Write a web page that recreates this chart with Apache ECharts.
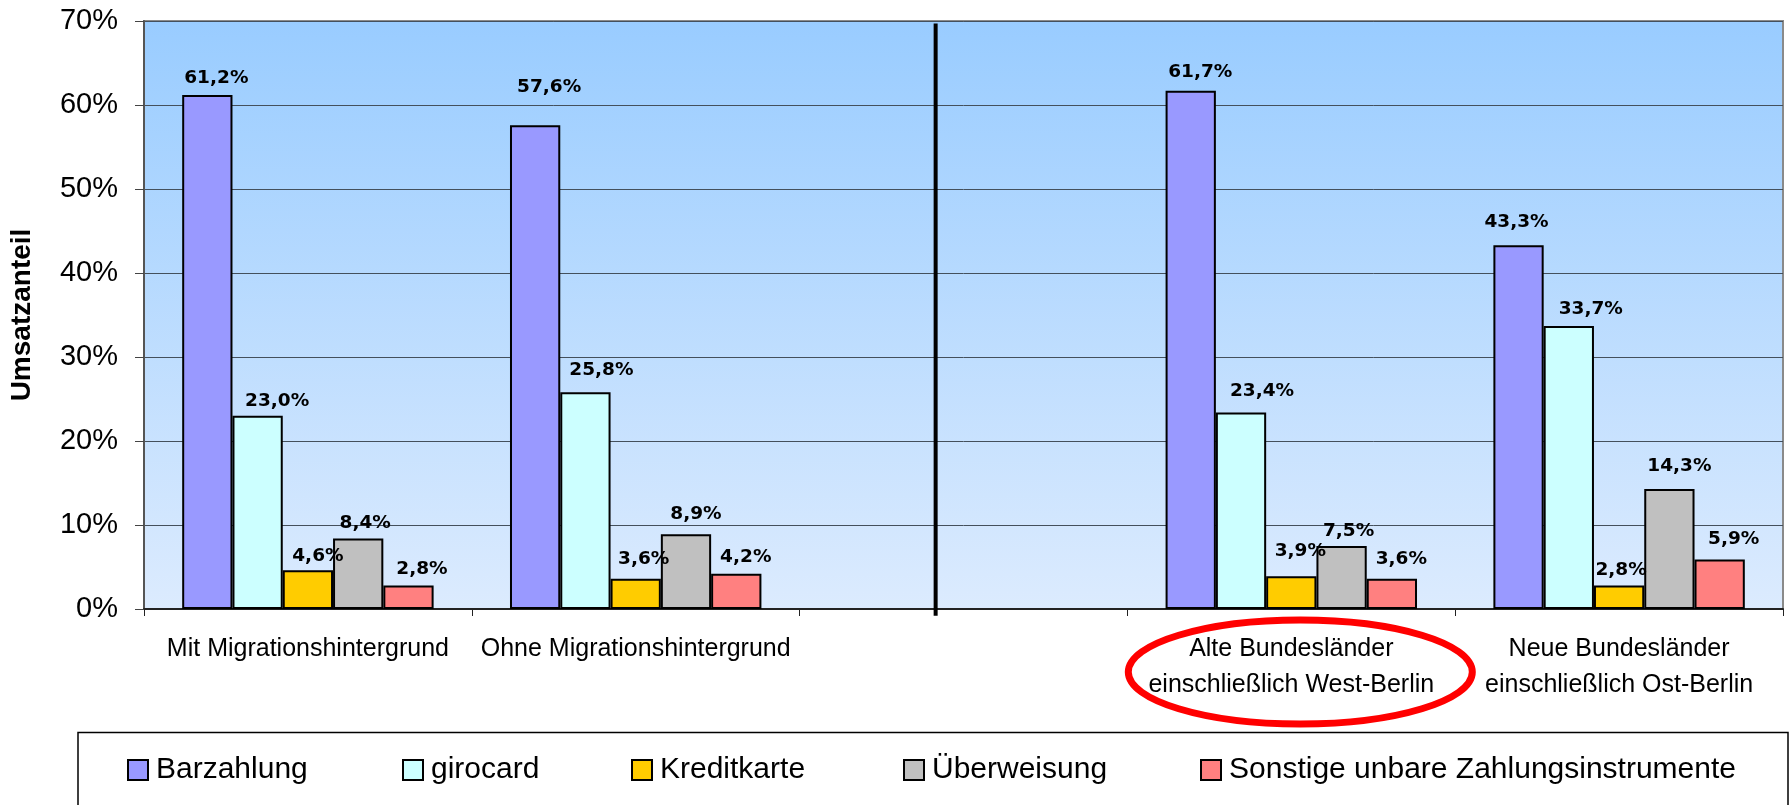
<!DOCTYPE html>
<html>
<head>
<meta charset="utf-8">
<script src="https://cdn.jsdelivr.net/npm/echarts@6/dist/echarts.min.js"></script>
<style>
  html, body { margin: 0; padding: 0; background: #fff; }
  #chart { width: 1791px; height: 805px; }
</style>
</head>
<body>
<div id="chart"></div>
<script>
// ---- data ----
const categories = [
  'Mit Migrationshintergrund',
  'Ohne Migrationshintergrund',
  '',
  'Alte Bundesländer\neinschließlich West-Berlin',
  'Neue Bundesländer\neinschließlich Ost-Berlin'
];
const seriesNames = ['Barzahlung', 'girocard', 'Kreditkarte', 'Überweisung', 'Sonstige unbare Zahlungsinstrumente'];
const barzahlung  = [61.2, 57.6, null, 61.7, 43.3];
const girocard    = [23.0, 25.8, null, 23.4, 33.7];
const kreditkarte = [4.6, 3.6, null, 3.9, 2.8];
const ueberweisung = [8.4, 8.9, null, 7.5, 14.3];
const sonstige    = [2.8, 4.2, null, 3.6, 5.9];
const yTicks = [0, 10, 20, 30, 40, 50, 60, 70];

// ---- styling (not data) ----
const colors = ['#9999FF', '#CCFFFF', '#FFCC00', '#C0C0C0', '#FF8080'];
// label nudges [dx, gap between baseline and bar top]
const labelNudge = [
  [[9, 11.6], [14, 32], null, [9.5, 12.6], [-2, 17.3]],
  [[19.5, 9], [16, 16.7], null, [21, 16], [22, 11.7]],
  [[10, 8.7], [8, 13.8], null, [9, 20], [2, 10]],
  [[7, 10], [10, 14.3], null, [7, 9], [10, 16.7]],
  [[13.5, 11], [9.5, 11.3], null, [9.5, 14.3], [14, 15]]
];
const baseGap = 12;
const legendLeft = [127, 402, 631, 903, 1200];
const sepPos = 2.415; // position of separator line in category units

const allValues = [barzahlung, girocard, kreditkarte, ueberweisung, sonstige];
const fmt = v => v.toFixed(1).replace('.', ',') + '%';

const chart = echarts.init(document.getElementById('chart'), null, { renderer: 'canvas' });

const barSeries = allValues.map((vals, i) => ({
  name: seriesNames[i],
  type: 'bar',
  xAxisIndex: 0,
  yAxisIndex: 0,
  barGap: '0%',
  barCategoryGap: '23.3%',
  itemStyle: { color: colors[i], borderColor: '#000', borderWidth: 2 },
  label: {
    show: true,
    position: 'top',
    distance: 8,
    formatter: p => fmt(p.value),
    fontFamily: 'DejaVu Sans',
    fontWeight: 'bold',
    fontSize: 18.5,
    color: '#000'
  },
  data: vals.map((v, j) => v == null ? null : {
    value: v,
    label: { offset: [labelNudge[i][j][0], baseGap - labelNudge[i][j][1]] }
  })
}));

const option = {
  animation: false,
  backgroundColor: '#fff',
  grid: {
    left: 144, right: 8, top: 21, bottom: 196,
    show: true,
    backgroundColor: new echarts.graphic.LinearGradient(0, 0, 0, 1, [
      { offset: 0, color: '#99CCFF' },
      { offset: 1, color: '#DCEBFE' }
    ]),
    borderColor: '#8a8a8a',
    borderWidth: 2
  },
  xAxis: [{
    type: 'category',
    data: categories,
    axisLine: { show: true, lineStyle: { color: '#222', width: 2 } },
    axisTick: { show: true, inside: false, length: 7, interval: 0, lineStyle: { color: '#222', width: 1 } },
    axisLabel: {
      interval: 0,
      margin: 22,
      fontFamily: 'Liberation Sans',
      fontSize: 25,
      lineHeight: 36,
      color: '#000'
    },
    splitLine: { show: false }
  }, {
    type: 'value',
    min: 0, max: 5,
    show: false
  }],
  yAxis: {
    type: 'value',
    min: 0, max: 70, interval: 10,
    name: 'Umsatzanteil',
    nameLocation: 'middle',
    nameRotate: 90,
    nameGap: 108,
    nameTextStyle: { fontFamily: 'Liberation Sans', fontWeight: 'bold', fontSize: 28, color: '#000' },
    axisLine: { show: true, lineStyle: { color: '#555', width: 2 } },
    axisTick: { show: true, inside: false, length: 9, lineStyle: { color: '#444', width: 1 } },
    axisLabel: {
      margin: 26,
      fontFamily: 'Liberation Sans',
      fontSize: 29,
      color: '#000',
      formatter: v => yTicks.includes(v) ? v + '%' : ''
    },
    splitLine: { show: true, lineStyle: { color: '#44505c', width: 1 } }
  },
  legend: seriesNames.map((n, i) => ({
    data: [n],
    left: legendLeft[i],
    top: 755,
    padding: 0,
    itemWidth: 20,
    itemHeight: 20,
    icon: 'rect',
    selectedMode: false,
    textStyle: {
      fontFamily: 'Liberation Sans',
      fontSize: 30,
      color: '#000',
      padding: [0, 0, 8, 3]
    }
  })),
  series: barSeries.concat([{
    type: 'line',
    xAxisIndex: 1,
    yAxisIndex: 0,
    clip: false,
    symbol: 'none',
    silent: true,
    z: 5,
    lineStyle: { color: '#000', width: 4 },
    data: [[sepPos, 69.7], [sepPos, -0.8]]
  }])
};

chart.setOption(option);

// red ellipse around the "Alte Bundesländer" label, anchored to its category
const cx = chart.convertToPixel({ xAxisIndex: 0 }, 3) + 9;
const y0 = chart.convertToPixel({ yAxisIndex: 0 }, 0);
chart.setOption({
  graphic: [{
    type: 'rect',
    z: -1,
    shape: { x: 78, y: 732.5, width: 1710, height: 100 },
    style: { fill: '#fff', stroke: '#000', lineWidth: 1.5 }
  }, {
    type: 'ellipse',
    z: 10,
    shape: { cx: cx, cy: y0 + 63, rx: 172, ry: 52 },
    style: { fill: 'none', stroke: '#FF0000', lineWidth: 7 }
  }]
});
</script>
</body>
</html>
